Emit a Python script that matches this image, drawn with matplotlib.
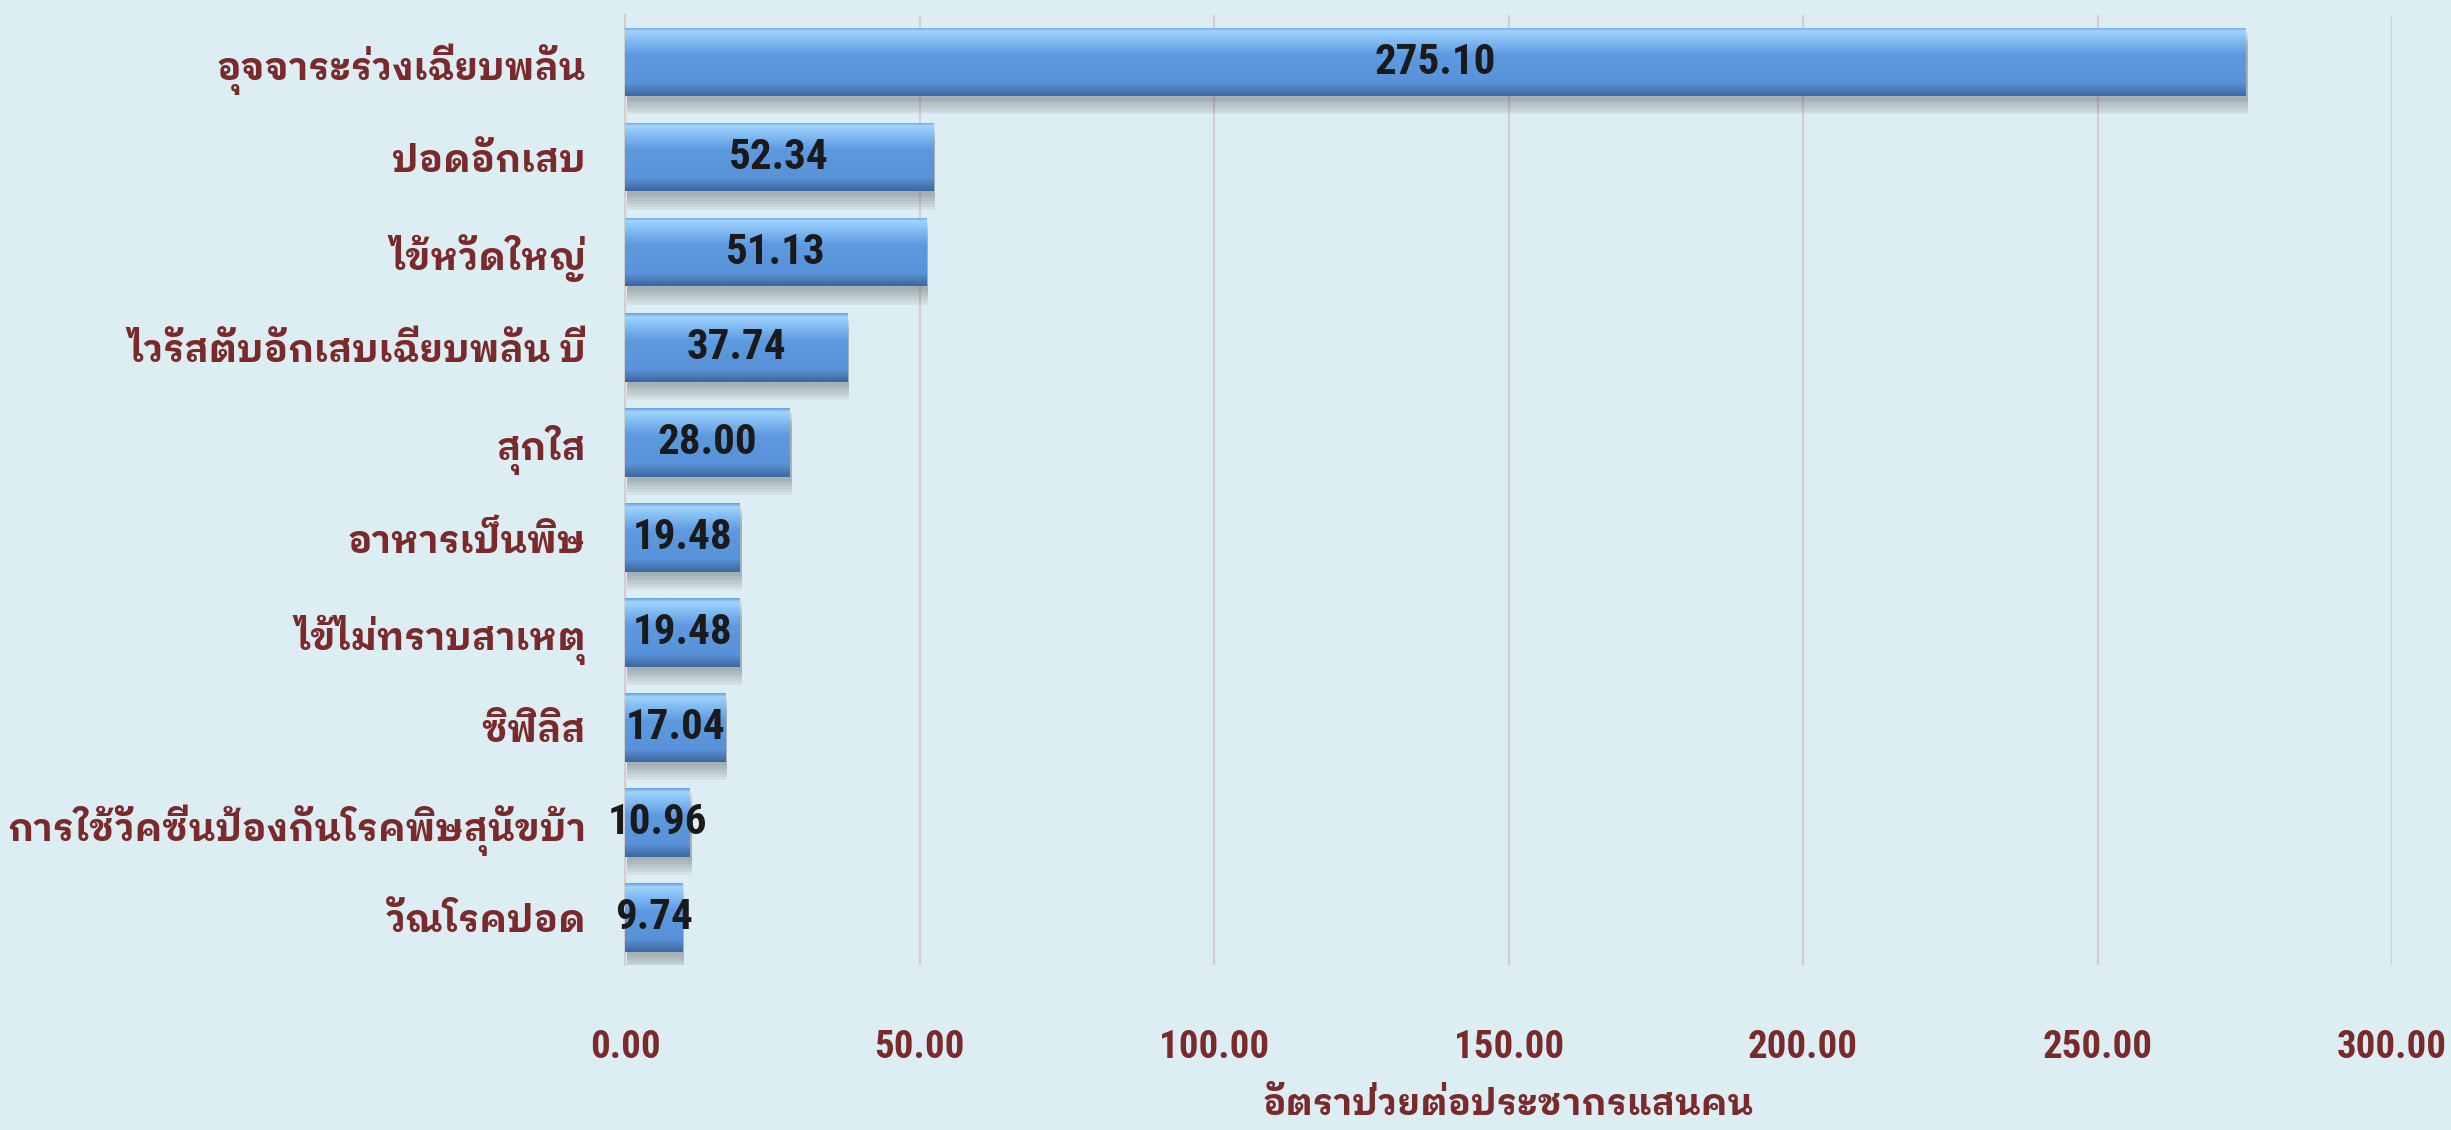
import numpy as np
import matplotlib
matplotlib.use('Agg')
import matplotlib.pyplot as plt
import matplotlib.patheffects as pe
from matplotlib.colors import to_rgb

# โรคที่มีอัตราป่วยสูงสุด 10 อันดับ (ต่อประชากรแสนคน)
diseases = ['อุจจาระร่วงเฉียบพลัน', 'ปอดอักเสบ', 'ไข้หวัดใหญ่', 'ไวรัสตับอักเสบเฉียบพลัน บี',
            'สุกใส', 'อาหารเป็นพิษ', 'ไข้ไม่ทราบสาเหตุ', 'ซิฟิลิส',
            'การใช้วัคซีนป้องกันโรคพิษสุนัขบ้า', 'วัณโรคปอด']
rates = [275.10, 52.34, 51.13, 37.74, 28.00, 19.48, 19.48, 17.04, 10.96, 9.74]
x_ticks = [0, 50, 100, 150, 200, 250, 300]
x_label = 'อัตราป่วยต่อประชากรแสนคน'

BG = '#dcedf3'
RED = '#7a2a2a'
THAI = ['IBM Plex Sans Thai Looped', 'Loma', 'DejaVu Sans']
NUM = ['Roboto Condensed', 'DejaVu Sans']


def bar_gradient(n=64):
    # แถบสีไล่ระดับแนวตั้งให้ดูเหมือนแท่งนูนแบบ Excel
    stops = [0.0, 0.05, 0.16, 0.40, 0.82, 1.0]
    cols = [to_rgb(c) for c in ['#6aa3e6', '#a2d4fc', '#88c1f6', '#5d9ae0', '#5892d8', '#3c68a0']]
    t = np.linspace(0, 1, n)
    rgb = np.stack([np.interp(t, stops, [c[i] for c in cols]) for i in range(3)], axis=1)
    return rgb[:, None, :]


def soft_shadow():
    # เงาฟุ้ง ๆ ใต้แท่ง ทำจากเงาหลายชั้นซ้อนกัน
    effects = []
    for dy in [-3, -5, -7, -9, -11, -13]:
        effects.append(pe.SimplePatchShadow(offset=(1.5, dy), shadow_rgbFace='#4a4a4a', alpha=0.07))
    effects.append(pe.Normal())
    return effects


def main():
    fig = plt.figure(figsize=(24.51, 11.3), dpi=100, facecolor=BG)
    ax = fig.add_axes([0.255, 0.146, 0.721, 0.841])
    ax.set_facecolor(BG)

    y = np.arange(len(diseases))
    bars = ax.barh(y, rates, height=0.72, color='#5d9ae0', zorder=2)
    grad = bar_gradient()
    for b in bars:
        b.set_path_effects(soft_shadow())
        x0, y0, w, h = b.get_x(), b.get_y(), b.get_width(), b.get_height()
        im = ax.imshow(grad, extent=(x0, x0 + w, y0 + h, y0), origin='upper',
                       aspect='auto', interpolation='bilinear', zorder=3)
        im.set_clip_path(b)

    for b, v in zip(bars, rates):
        ax.text(b.get_x() + b.get_width() / 2, b.get_y() + b.get_height() / 2, f'{v:.2f}',
                ha='center', va='center', fontsize=31, fontweight='bold', family=NUM,
                color='#1a1a1a', zorder=5)

    ax.set_xlim(0, 300)
    ax.set_ylim(len(diseases) - 0.5, -0.5)
    ax.set_xticks(x_ticks)
    ax.set_xticklabels([f'{t:.2f}' for t in x_ticks], fontsize=28, fontweight='bold',
                       family=NUM, color=RED)
    ax.set_yticks(y)
    ax.set_yticklabels(diseases, fontsize=27, fontweight='bold', family=THAI, color=RED)
    ax.tick_params(axis='both', length=0)
    ax.tick_params(axis='x', pad=46)
    ax.tick_params(axis='y', pad=28)

    ax.grid(axis='x', color='#d6cccc', linewidth=1.5, zorder=0)
    for s in ['top', 'right', 'bottom']:
        ax.spines[s].set_visible(False)
    ax.spines['left'].set_color('#d6cccc')
    ax.spines['left'].set_linewidth(1.5)

    ax.set_xlabel(x_label, fontsize=26, fontweight='bold', family=THAI, color=RED, labelpad=16)

    fig.savefig('out.png', facecolor=BG)


if __name__ == "__main__":
    main()
